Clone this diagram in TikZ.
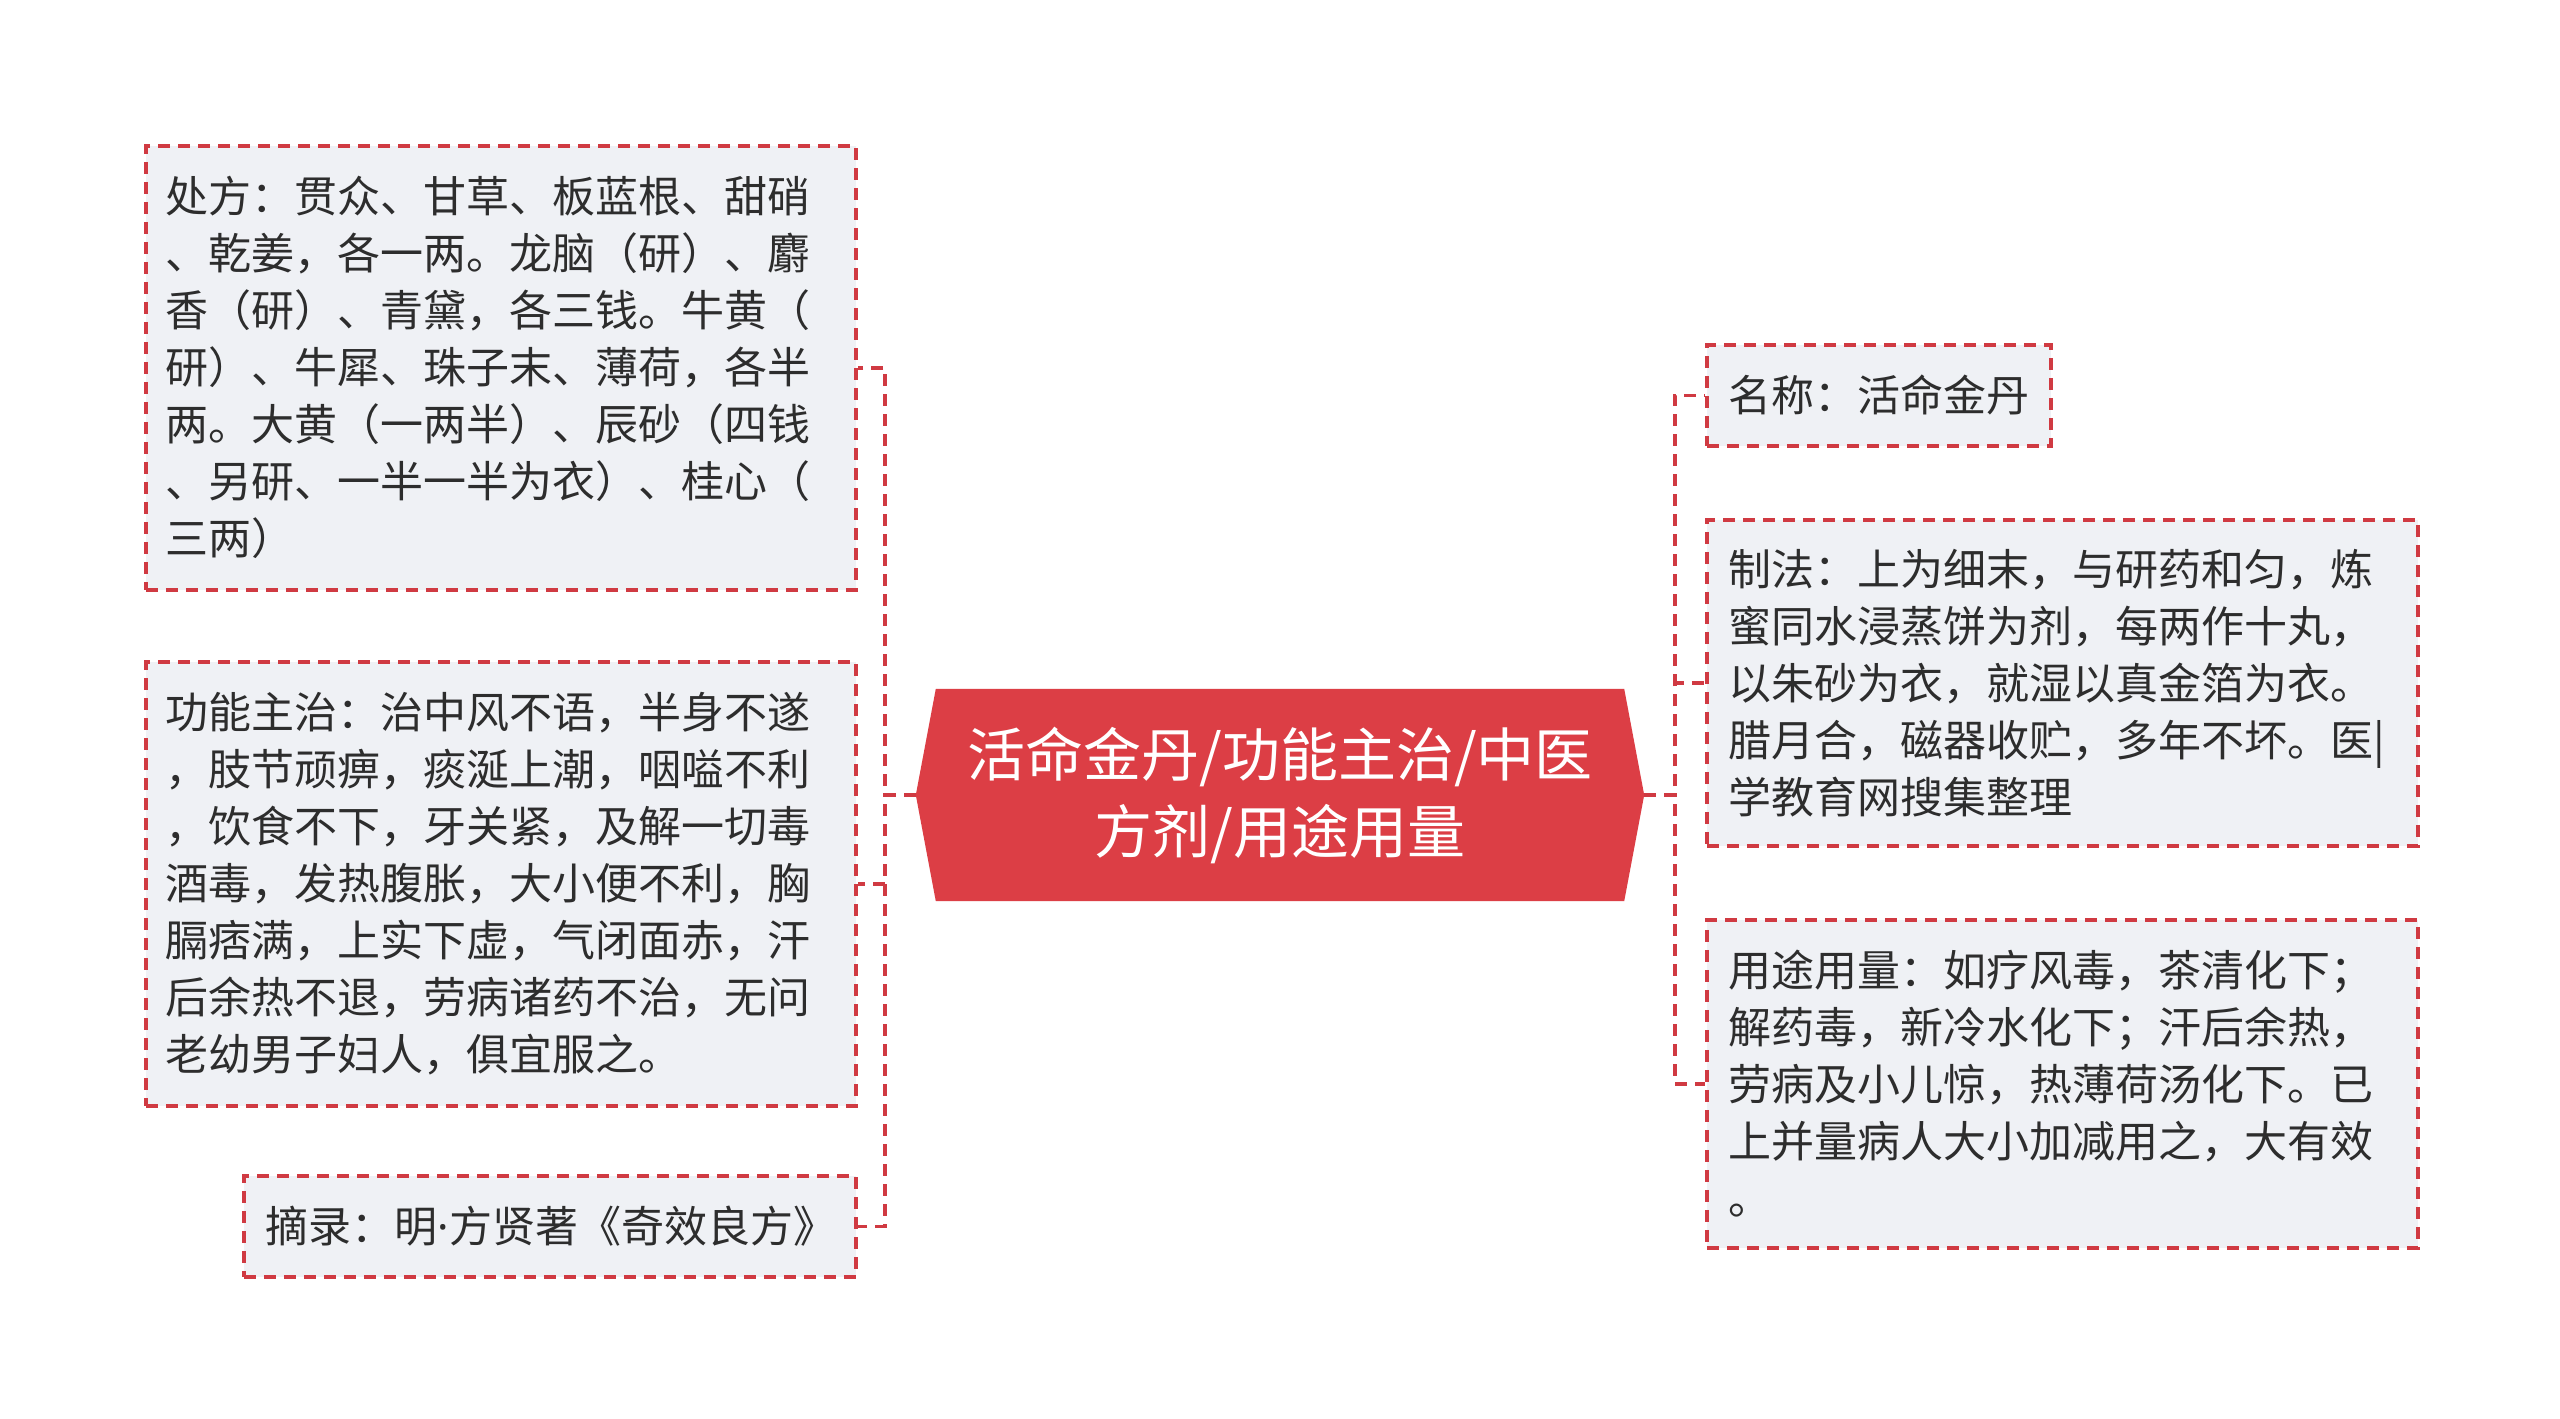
\documentclass[tikz,border=0pt]{standalone}
\usepackage{fontspec}
\setmainfont{Noto Sans CJK SC}
\newfontfamily\latinfont{Noto Sans}
\usetikzlibrary{calc,backgrounds}
\definecolor{boxred}{RGB}{208,58,66}
\definecolor{hexred}{RGB}{220,62,69}
\definecolor{boxfill}{RGB}{239,241,245}
\definecolor{txt}{RGB}{45,45,45}
\tikzset{
  leaf/.style={draw=boxred, line width=3.5pt, dash pattern=on 12pt off 8pt,
    fill=boxfill, anchor=north west, inner xsep=20pt, inner ysep=0pt,
    align=left, text=txt, font=\fontsize{43}{57}\selectfont},
  conn/.style={draw=boxred, line width=3.5pt, dash pattern=on 12pt off 8pt},
  hub/.style={text=white, align=center, inner sep=0pt,
    font=\fontsize{58}{77}\selectfont}
}
\begin{document}
\begin{tikzpicture}[x=1pt,y=-1pt]
\useasboundingbox (0,0) rectangle (2560,1419);

% centre
\node[hub, minimum width=728pt, minimum height=212pt] (c) at (1280,795)
  {活命金丹/功能主治/中医\\方剂/用途用量};
\begin{pgfonlayer}{background}
\fill[white] (0,0) rectangle (2560,1419);
\fill[hexred] (c.west) -- ($(c.north west)+(20,0)$) -- ($(c.north east)+(-20,0)$)
  -- (c.east) -- ($(c.south east)+(-20,0)$) -- ($(c.south west)+(20,0)$) -- cycle;
\end{pgfonlayer}

% left leaves
\node[leaf, text width=670pt, minimum height=444pt] (l1) at (144,144)
  {处方：贯众、甘草、板蓝根、甜硝\\、乾姜，各一两。龙脑（研）、麝\\香（研）、青黛，各三钱。牛黄（\\研）、牛犀、珠子末、薄荷，各半\\两。大黄（一两半）、辰砂（四钱\\、另研、一半一半为衣）、桂心（\\三两）};
\node[leaf, text width=670pt, minimum height=444pt] (l2) at (144,660)
  {功能主治：治中风不语，半身不遂\\，肢节顽痹，痰涎上潮，咽嗌不利\\，饮食不下，牙关紧，及解一切毒\\酒毒，发热腹胀，大小便不利，胸\\膈痞满，上实下虚，气闭面赤，汗\\后余热不退，劳病诸药不治，无问\\老幼男子妇人，俱宜服之。};
\node[leaf, inner xsep=22pt, text width=568pt, minimum height=101pt] (l3) at (242,1174)
  {摘录：明{\latinfont ·}方贤著《奇效良方》};

% right leaves
\node[leaf, inner xsep=22pt, text width=300pt, minimum height=101pt] (r1) at (1705,343)
  {名称：活命金丹};
\node[leaf, inner xsep=22pt, text width=667pt, minimum height=326pt] (r2) at (1705,518)
  {制法：上为细末，与研药和匀，炼\\蜜同水浸蒸饼为剂，每两作十丸，\\以朱砂为衣，就湿以真金箔为衣。\\腊月合，磁器收贮，多年不坏。医|\\学教育网搜集整理};
\node[leaf, inner xsep=22pt, text width=667pt, minimum height=328pt] (r3) at (1705,918)
  {用途用量：如疗风毒，茶清化下；\\解药毒，新冷水化下；汗后余热，\\劳病及小儿惊，热薄荷汤化下。已\\上并量病人大小加减用之，大有效\\。};

% connectors
\draw[conn] (c.west) -- ++(-31,0) |- (l1.east);
\draw[conn] (c.west) -- ++(-31,0) |- (l2.east);
\draw[conn] (c.west) -- ++(-31,0) |- (l3.east);
\draw[conn] (c.east) -- ++(31,0) |- (r1.west);
\draw[conn] (c.east) -- ++(31,0) |- (r2.west);
\draw[conn] (c.east) -- ++(31,0) |- (r3.west);
\end{tikzpicture}
\end{document}
